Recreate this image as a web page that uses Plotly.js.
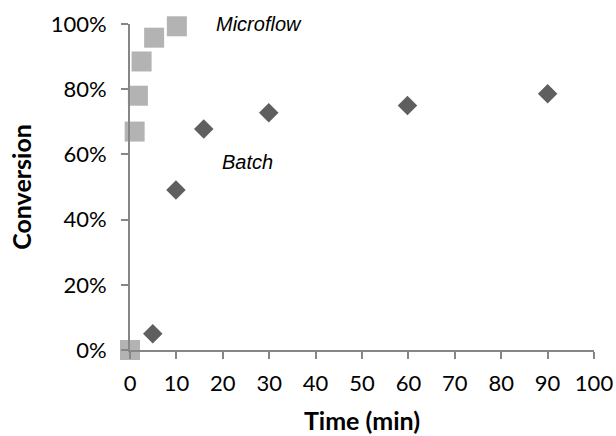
<!DOCTYPE html>
<html>
<head>
<meta charset="utf-8">
<script src="https://cdn.plot.ly/plotly-3.0.1.min.js"></script>
<style>html,body{margin:0;padding:0;background:#fff;}#chart{width:616px;height:436px;}</style>
</head>
<body>
<div id="chart"></div>
<script>
const microTime = [0, 1, 1.7, 2.5, 5.2, 10.1];
const microConv = [0, 0.67, 0.78, 0.885, 0.958, 0.993];
const batchTime = [4.9, 9.9, 15.9, 29.9, 59.8, 90];
const batchConv = [0.05, 0.491, 0.678, 0.728, 0.75, 0.786];
const xTicks = [0, 10, 20, 30, 40, 50, 60, 70, 80, 90, 100];
const yTicks = [0, 0.2, 0.4, 0.6, 0.8, 1.0];

const tickFont = {family: 'Lato, "Open Sans", sans-serif', size: 22, color: '#000'};
const titleFont = {family: 'Lato, "Open Sans", sans-serif', size: 25, color: '#000', weight: 'bold'};

const traces = [
  {x: batchTime, y: batchConv, mode: 'markers', type: 'scatter', cliponaxis: false,
   marker: {symbol: 'diamond', size: 15, color: '#5f5f5f'}, name: 'Batch'},
  {x: microTime, y: microConv, mode: 'markers', type: 'scatter', cliponaxis: false,
   marker: {symbol: 'square', size: 20, color: '#b3b3b3'}, name: 'Microflow'}
];

const layout = {
  width: 616, height: 436,
  margin: {l: 130, r: 22, t: 24, b: 86},
  showlegend: false,
  paper_bgcolor: '#fff', plot_bgcolor: '#fff',
  xaxis: {
    range: [0, 100], tickvals: xTicks, ticktext: xTicks.map(String),
    showgrid: false, zeroline: false, showline: true, linecolor: '#868686', linewidth: 2,
    ticks: 'outside', ticklen: 7, tickwidth: 2, tickcolor: '#868686',
    tickfont: tickFont, ticklabelstandoff: 6,
    title: {text: 'Time (min)', font: titleFont, standoff: 17}
  },
  yaxis: {
    range: [0, 1], tickvals: yTicks, ticktext: yTicks.map(v => Math.round(v*100) + '%'),
    showgrid: false, zeroline: false, showline: true, linecolor: '#868686', linewidth: 2,
    ticks: 'outside', ticklen: 7, tickwidth: 2, tickcolor: '#868686',
    tickfont: tickFont, ticklabelstandoff: 10,
    title: {text: 'Conversion', font: titleFont, standoff: 12}
  },
  annotations: [
    {x: 18, y: 1.0, xref: 'x', yref: 'y', text: '<i>Microflow</i>', showarrow: false,
     xanchor: 'left', yanchor: 'middle', font: {family: '"Liberation Sans", Arial, sans-serif', size: 20, color: '#000'}},
    {x: 19.3, y: 0.578, xref: 'x', yref: 'y', text: '<i>Batch</i>', showarrow: false,
     xanchor: 'left', yanchor: 'middle', font: {family: '"Liberation Sans", Arial, sans-serif', size: 20, color: '#000'}}
  ]
};

Plotly.newPlot('chart', traces, layout, {displayModeBar: false, staticPlot: true});
</script>
</body>
</html>
